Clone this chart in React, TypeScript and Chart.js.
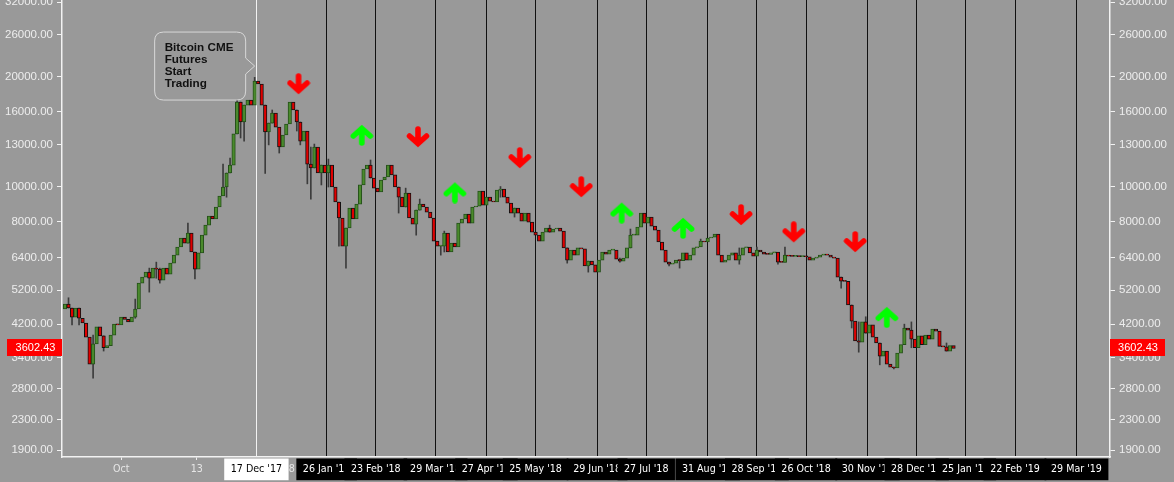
import React, { useEffect, useRef } from "react";
import Chart from "chart.js/auto";

const firstCandle = "2017-08-30";
const candleStepDays = 2;
const firstOpen = 4620;
const closes = [
  4770, 4650, 4390, 4650, 4360, 4230, 3870, 3265, 3710, 4130, 3900, 3620, 3670, 3920, 4200, 4180, 4390, 4330, 4260, 4390,
  4620, 5440, 5650, 5830, 5610, 5980, 5940, 5545, 5980, 5760, 6170, 6490, 6830, 7230, 7000, 7460, 6620, 5940, 6580, 7360,
  7840, 8300, 8150, 8790, 9420, 9970, 10890, 11450, 13930, 17030, 15020, 16710, 17250, 16710, 19450, 19080, 16710, 14100, 14920, 15900,
  14540, 12830, 13840, 14830, 17030, 16200, 15020, 13310, 14190, 11520, 11240, 12830, 10890, 11450, 10890, 11450, 9970, 9070, 8200, 6870,
  7700, 8730, 8150, 8950, 10100, 11170, 11450, 10550, 9900, 9660, 10420, 10620, 11450, 10760, 9970, 9350, 8790, 9600, 8200, 7890,
  8620, 8950, 8790, 8510, 8200, 7090, 6870, 6870, 7460, 6620, 7000, 6830, 7940, 8150, 8400, 7940, 8790, 8840, 9720, 8890,
  9350, 9120, 9070, 9780, 9840, 9350, 9010, 8460, 8730, 8460, 8040, 8460, 7990, 7500, 7360, 7090, 7500, 7700, 7500, 7650,
  7700, 7550, 6790, 6290, 6700, 6490, 6790, 6750, 6060, 6250, 6100, 5830, 6290, 6620, 6530, 6700, 6700, 6330, 6250, 6370,
  6790, 7360, 7360, 7740, 8460, 7940, 8250, 7790, 7600, 7050, 6700, 6210, 6130, 6170, 6290, 6270, 6580, 6290, 6490, 6790,
  6830, 7090, 7050, 7230, 7270, 7410, 6490, 6210, 6290, 6490, 6580, 6290, 6490, 6790, 6830, 6580, 6450, 6700, 6620, 6530,
  6520, 6580, 6620, 6210, 6200, 6490, 6450, 6440, 6440, 6430, 6430, 6425, 6290, 6370, 6410, 6490, 6530, 6490, 6410, 6370,
  5650, 5510, 5500, 4740, 4280, 3780, 3750, 4260, 3970, 4180, 3870, 3730, 3435, 3545, 3265, 3205, 3185, 3500, 3690, 4100,
  4046, 3820, 3620, 3900, 3690, 3920, 3820, 4070, 4020, 3650, 3640, 3545, 3670, 3602.43,
];

const wickCandles = [1, 2, 4, 8, 11, 20, 24, 26, 27, 35, 37, 45, 46, 47, 49, 50, 51, 54, 57, 58, 59, 61, 66, 67, 69, 70, 71, 73, 75, 78, 80, 87, 95, 97, 100, 101, 107, 108, 124, 128, 138, 143, 149, 158, 161, 172, 175, 181, 192, 197, 203, 205, 221, 224, 226, 228, 232, 236, 239, 241, 251];
const wickHighs = [4960, 4650, 4650, 3920, 3900, 4920, 5980, 6210, 5980, 7940, 6620, 11520, 10890, 11970, 17690, 17030, 16710, 19900, 16710, 14920, 16200, 13840, 16200, 15020, 13310, 12830, 13070, 11450, 11890, 9070, 7700, 11820, 9970, 9900, 8620, 9240, 6870, 7550, 10000, 8730, 7840, 6790, 6250, 6370, 7650, 6210, 6290, 7180, 6790, 6830, 6580, 6830, 5650, 4740, 4260, 4400, 3730, 3205, 4200, 4260, 3730];
const wickLows = [4650, 4180, 4180, 2990, 3545, 4360, 5140, 5610, 5440, 7000, 5590, 9970, 9350, 10890, 13930, 13580, 13310, 19080, 10860, 13000, 14920, 12350, 14190, 13000, 10170, 9240, 11240, 10100, 9970, 6870, 5980, 10550, 8460, 8790, 7360, 8620, 6490, 6620, 9350, 8250, 7500, 6170, 5830, 6210, 6790, 6060, 5980, 7050, 6130, 6580, 6130, 6210, 5270, 4100, 3520, 3970, 3250, 3165, 3690, 3620, 3545];

const yTicks = [1900, 2300, 2800, 3400, 4200, 5200, 6400, 8000, 10000, 13000, 16000, 20000, 26000, 32000];
const plainTickDates = ["2017-10-01", "2017-11-13", "2018-01-01"];
const plainTickLabels = ["Oct", "13", "2018"];
const futuresDate = "2017-12-17";
const futuresLabel = "17 Dec '17";
const expiryDates = ["2018-01-26", "2018-02-23", "2018-03-29", "2018-04-27", "2018-05-25", "2018-06-29", "2018-07-27", "2018-08-31", "2018-09-28", "2018-10-26", "2018-11-30", "2018-12-28", "2019-01-25", "2019-02-22", "2019-03-29"];
const expiryLabels = ["26 Jan '18", "23 Feb '18", "29 Mar '18", "27 Apr '18", "25 May '18", "29 Jun '18", "27 Jul '18", "31 Aug '18", "28 Sep '18", "26 Oct '18", "30 Nov '18", "28 Dec '18", "25 Jan '19", "22 Feb '19", "29 Mar '19"];

const downArrowDates = ["2018-01-10", "2018-03-19", "2018-05-16", "2018-06-20", "2018-09-19", "2018-10-19", "2018-11-23"];
const downArrowPrices = [19080, 13660, 11970, 9970, 8360, 7500, 7050];
const upArrowDates = ["2018-02-15", "2018-04-09", "2018-07-13", "2018-08-17", "2018-12-11"];
const upArrowPrices = [13840, 9630, 8480, 7700, 4390];

const calloutLines = ["Bitcoin CME", "Futures", "Start", "Trading"];
const calloutTipDate = "2017-12-16";
const calloutTipPrice = 21370;
const lastPrice = 3602.43;

const dayOf = (d: string) => (Date.UTC(+d.slice(0, 4), +d.slice(5, 7) - 1, +d.slice(8, 10)) - Date.parse(firstCandle + "T00:00:00Z")) / 86400000;

const tickDays = [...plainTickDates, futuresDate, ...expiryDates].map(dayOf);
const tickLabels = [...plainTickLabels, futuresLabel, ...expiryLabels];
const plainCount = plainTickDates.length;

const opens = closes.map((_, i) => (i === 0 ? firstOpen : closes[i - 1]));
const bodies = closes.map((c, i) => ({ x: i * candleStepDays, y: [opens[i], c] }));
const wicks = wickCandles.map((i, k) => ({ x: i * candleStepDays, y: [wickLows[k], wickHighs[k]] }));
const isUp = closes.map((c, i) => c >= opens[i]);

function makeArrow(color: string, up: boolean): HTMLCanvasElement {
  const c = document.createElement("canvas");
  c.width = 24;
  c.height = 22;
  const g = c.getContext("2d")!;
  g.strokeStyle = color;
  g.lineWidth = 5.6;
  g.lineCap = "round";
  g.lineJoin = "miter";
  const tip = up ? 4.5 : 17.5;
  const end = up ? 19 : 3;
  const wing = up ? 12 : 10;
  g.beginPath();
  g.moveTo(12, end);
  g.lineTo(12, tip);
  g.moveTo(3.5, wing);
  g.lineTo(12, tip);
  g.lineTo(20.5, wing);
  g.stroke();
  return c;
}

const tagPlugin = {
  id: "tags",
  beforeDraw(chart: any) {
    const g = chart.ctx;
    g.save();
    g.fillStyle = "#999999";
    g.fillRect(0, 0, chart.width, chart.height);
    g.restore();
  },
  afterDatasetsDraw(chart: any) {
    const g = chart.ctx;
    const tx = chart.scales.x.getPixelForValue(dayOf(calloutTipDate));
    const ty = chart.scales.y.getPixelForValue(calloutTipPrice);
    const l = tx - 100, r = tx - 9, t = ty - 34, b = ty + 34, rad = 9;
    g.save();
    g.beginPath();
    g.moveTo(l + rad, t);
    g.lineTo(r - rad, t);
    g.quadraticCurveTo(r, t, r, t + rad);
    g.lineTo(r, ty - 8);
    g.lineTo(tx, ty);
    g.lineTo(r, ty + 8);
    g.lineTo(r, b - rad);
    g.quadraticCurveTo(r, b, r - rad, b);
    g.lineTo(l + rad, b);
    g.quadraticCurveTo(l, b, l, b - rad);
    g.lineTo(l, t + rad);
    g.quadraticCurveTo(l, t, l + rad, t);
    g.closePath();
    g.fillStyle = "#999999";
    g.fill();
    g.strokeStyle = "#d8d8d8";
    g.lineWidth = 1;
    g.stroke();
    g.fillStyle = "#111111";
    g.font = 'bold 11.7px "Liberation Sans", Arial, sans-serif';
    g.textAlign = "left";
    g.textBaseline = "middle";
    calloutLines.forEach((line, i) => g.fillText(line, l + 10, t + 16 + i * 12));
    g.restore();
  },
  afterDraw(chart: any) {
    const g = chart.ctx;
    const y = chart.scales.y.getPixelForValue(lastPrice) - 1;
    const a = chart.chartArea;
    g.save();
    g.fillStyle = "#ff0000";
    g.fillRect(7, y - 8.5, a.left - 7, 17);
    g.fillRect(a.right, y - 8.5, 55, 17);
    g.fillStyle = "#ffffff";
    g.font = '11px "Liberation Sans", Arial, sans-serif';
    g.textAlign = "center";
    g.textBaseline = "middle";
    g.fillText(lastPrice.toFixed(2), (7 + a.left) / 2 + 1, y + 0.5);
    g.fillText(lastPrice.toFixed(2), a.right + 28, y + 0.5);
    g.restore();
  },
};

const isPlain = (i: number) => i < plainCount;
const isFutures = (i: number) => i === plainCount;

const yAxis = (position: string, width: number) => ({
  type: "logarithmic",
  position,
  min: 1818,
  max: 32406,
  border: { color: "#f2f2f2", width: 1.5 },
  grid: { drawOnChartArea: false, drawTicks: true, tickLength: 5, tickColor: "#f2f2f2", tickWidth: 1 },
  ticks: {
    color: "#ededed",
    font: { family: '"Liberation Sans", Arial, sans-serif', size: 11.5 },
    padding: 4,
    autoSkip: false,
    callback: (v: number) => Number(v).toFixed(2),
  },
  afterBuildTicks: (s: any) => {
    s.ticks = yTicks.map((value) => ({ value }));
  },
  afterFit: (s: any) => {
    s.width = width;
    s.paddingTop = 0;
    s.paddingBottom = 0;
  },
});

export default function App() {
  const ref = useRef<HTMLCanvasElement>(null);
  useEffect(() => {
    document.body.style.margin = "0";
    document.body.style.background = "#999999";
    const chart = new Chart(ref.current!, {
      type: "bar",
      plugins: [tagPlugin],
      data: {
        datasets: [
          {
            type: "line",
            data: downArrowDates.map((d, i) => ({ x: dayOf(d), y: downArrowPrices[i] })),
            showLine: false,
            pointStyle: makeArrow("#ff0000", false),
            order: 0,
          },
          {
            type: "line",
            data: upArrowDates.map((d, i) => ({ x: dayOf(d), y: upArrowPrices[i] })),
            showLine: false,
            pointStyle: makeArrow("#00ff00", true),
            order: 0,
          },
          {
            data: bodies,
            grouped: false,
            barThickness: 3.5,
            minBarLength: 1,
            borderWidth: 1,
            borderSkipped: false,
            backgroundColor: isUp.map((u) => (u ? "#4a8a2c" : "#e00000")),
            borderColor: isUp.map((u) => (u ? "#25501a" : "#111111")),
            order: 1,
          },
          {
            data: wicks,
            grouped: false,
            barThickness: 1,
            backgroundColor: "#3c3c3c",
            borderWidth: 0,
            order: 2,
          },
        ],
      } as any,
      options: {
        responsive: false,
        animation: false,
        events: [],
        layout: { padding: 0, autoPadding: false },
        plugins: { legend: { display: false }, tooltip: { enabled: false } },
        scales: {
          x: {
            type: "linear",
            offset: false,
            min: -1.71,
            max: 595.1,
            border: { color: "#f2f2f2", width: 1.5 },
            grid: {
              offset: false,
              color: (c: any) => (isPlain(c.index) ? "rgba(0,0,0,0)" : isFutures(c.index) ? "#f2f2f2" : "#111111"),
              lineWidth: 1,
              tickLength: 3,
              tickColor: (c: any) => (c.index < plainCount - 1 ? "#eeeeee" : "rgba(0,0,0,0)"),
            },
            ticks: {
              autoSkip: false,
              maxRotation: 0,
              minRotation: 0,
              padding: 3,
              font: { family: '"DejaVu Sans Condensed", "DejaVu Sans", sans-serif', size: 10.6 },
              color: (c: any) => (isPlain(c.index) ? "#e6e6e6" : isFutures(c.index) ? "#000000" : "#ffffff"),
              showLabelBackdrop: true,
              backdropColor: (c: any) => (isPlain(c.index) ? "rgba(0,0,0,0)" : isFutures(c.index) ? "#ffffff" : "#000000"),
              backdropPadding: { x: 6.5, y: 4.5 },
              callback: (_v: number, i: number) => tickLabels[i],
            },
            afterBuildTicks: (s: any) => {
              s.ticks = tickDays.map((value) => ({ value }));
            },
            afterFit: (s: any) => {
              s.height = 25;
              s.paddingLeft = 0;
              s.paddingRight = 0;
            },
          } as any,
          y: yAxis("left", 62) as any,
          y2: yAxis("right", 64) as any,
        },
      },
    });
    return () => chart.destroy();
  }, []);
  return <canvas ref={ref} width={1174} height={482} style={{ display: "block", width: 1174, height: 482 }} />;
}
